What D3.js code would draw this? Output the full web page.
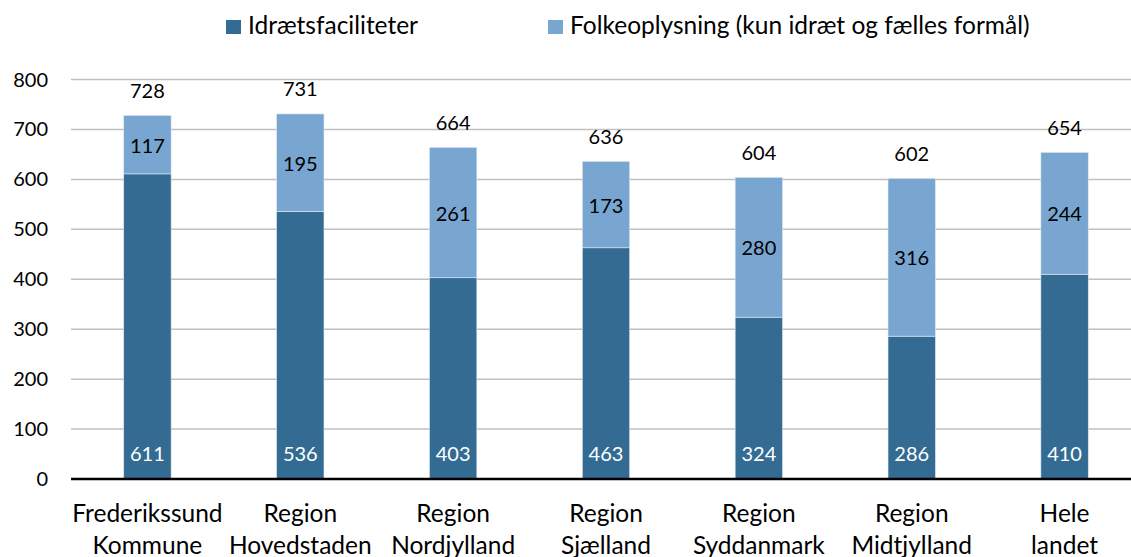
<!DOCTYPE html>
<html>
<head>
<meta charset="utf-8">
<script src="https://cdn.jsdelivr.net/npm/d3@7"></script>
<style>
  body { margin: 0; background: #fff; }
  svg { display: block; font-family: Lato, "Open Sans", sans-serif; }
</style>
</head>
<body>
<svg id="chart" width="1131" height="557"></svg>
<script>
// data
const categories = [
  ["Frederikssund", "Kommune"],
  ["Region", "Hovedstaden"],
  ["Region", "Nordjylland"],
  ["Region", "Sjælland"],
  ["Region", "Syddanmark"],
  ["Region", "Midtjylland"],
  ["Hele", "landet"]
];
const idraet = [611, 536, 403, 463, 324, 286, 410];
const folkeopl = [117, 195, 261, 173, 280, 316, 244];
const totals = [728, 731, 664, 636, 604, 602, 654];
const seriesNames = ["Idrætsfaciliteter", "Folkeoplysning (kun idræt og fælles formål)"];
const yTicks = [0, 100, 200, 300, 400, 500, 600, 700, 800];

const colors = ["#336b92", "#78a6d1"];

const svg = d3.select("#chart");
const plotLeft = 71, plotRight = 1141, plotTop = 79.5, plotBottom = 479;

const x = d3.scaleBand()
  .domain(d3.range(categories.length))
  .range([plotLeft, plotRight])
  .paddingInner(0.69)
  .paddingOuter(0.345);

const y = d3.scaleLinear().domain([0, 800]).range([plotBottom, plotTop]);

// gridlines
svg.append("g")
  .selectAll("line")
  .data(yTicks.slice(1))
  .join("line")
  .attr("x1", plotLeft).attr("x2", 1131)
  .attr("y1", d => y(d)).attr("y2", d => y(d))
  .attr("stroke", "#c0c0c0")
  .attr("stroke-width", 1.5);

// y tick labels
svg.append("g")
  .selectAll("text")
  .data(yTicks)
  .join("text")
  .attr("x", 48)
  .attr("y", d => y(d))
  .attr("dy", "0.35em")
  .attr("text-anchor", "end")
  .attr("font-size", 20)
  .attr("fill", "#000")
  .text(d => d);

// bars
const g = svg.append("g");
categories.forEach((c, i) => {
  g.append("rect")
    .attr("x", x(i)).attr("width", x.bandwidth())
    .attr("y", y(idraet[i])).attr("height", y(0) - y(idraet[i]))
    .attr("fill", colors[0])
    .attr("stroke", "#dfe8f0").attr("stroke-width", 0.6);
  g.append("rect")
    .attr("x", x(i)).attr("width", x.bandwidth())
    .attr("y", y(idraet[i] + folkeopl[i])).attr("height", y(idraet[i]) - y(idraet[i] + folkeopl[i]))
    .attr("fill", colors[1])
    .attr("stroke", "#dfe8f0").attr("stroke-width", 0.6);

  const cx = x(i) + x.bandwidth() / 2;
  // dark segment label
  g.append("text")
    .attr("x", cx).attr("y", y(0) - 25.5)
    .attr("dy", "0.35em")
    .attr("text-anchor", "middle")
    .attr("font-size", 20).attr("fill", "#fff")
    .text(idraet[i]);
  // light segment label
  g.append("text")
    .attr("x", cx).attr("y", y(idraet[i] + folkeopl[i] / 2) + 1)
    .attr("dy", "0.35em")
    .attr("text-anchor", "middle")
    .attr("font-size", 20).attr("fill", "#000")
    .text(folkeopl[i]);
  // total
  g.append("text")
    .attr("x", cx).attr("y", y(totals[i]) - 24.5)
    .attr("dy", "0.35em")
    .attr("text-anchor", "middle")
    .attr("font-size", 20).attr("fill", "#000")
    .text(totals[i]);
  // category labels
  c.forEach((line, k) => {
    g.append("text")
      .attr("x", cx).attr("y", 521.5 + k * 32)
      .attr("text-anchor", "middle")
      .attr("font-size", 24.5).attr("fill", "#000")
      .text(line);
  });
});

// x axis line
svg.append("line")
  .attr("x1", plotLeft).attr("x2", 1131)
  .attr("y1", y(0)).attr("y2", y(0))
  .attr("stroke", "#000").attr("stroke-width", 2.5);

// legend
const legendX = [226, 548];
seriesNames.forEach((name, i) => {
  svg.append("rect")
    .attr("x", legendX[i]).attr("y", 20)
    .attr("width", 15).attr("height", 14)
    .attr("fill", colors[i]);
  svg.append("text")
    .attr("x", legendX[i] + 22).attr("y", 34.3)
    .attr("font-size", 24.5).attr("fill", "#000")
    .text(name);
});
</script>
</body>
</html>
